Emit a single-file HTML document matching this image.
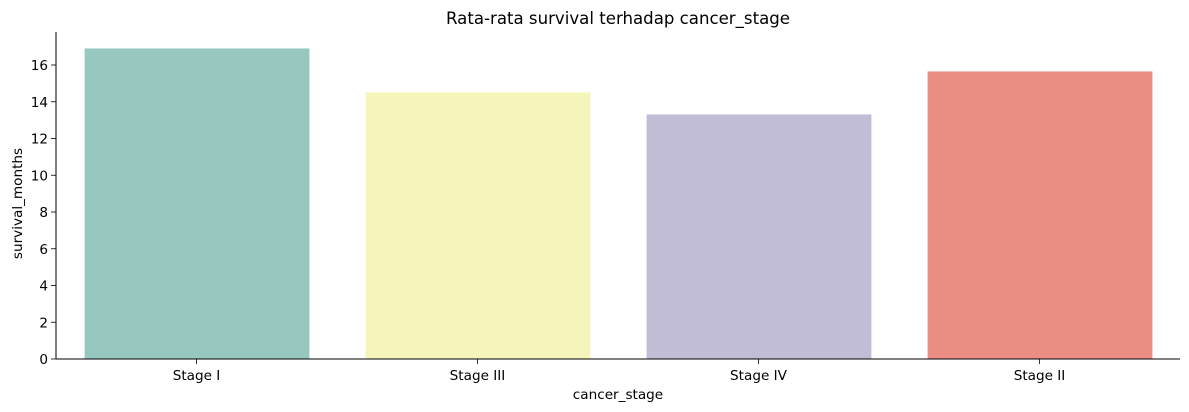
<!DOCTYPE html>
<html><head><meta charset="utf-8"><style>
body{margin:0;background:#fff;}
svg{display:block;font-family:"DejaVu Sans","Liberation Sans",sans-serif;}
</style></head><body>
<svg id="chart" width="1189" height="412"></svg>
<script>
const categories = ["Stage I","Stage III","Stage IV","Stage II"];
const values = [16.9, 14.51, 13.31, 15.65];
const colors = ["#97c8c0","#f5f5bb","#c1bdd6","#ea8e83"];
const yTicks = [0,2,4,6,8,10,12,14,16];

const NS="http://www.w3.org/2000/svg";
const svg=document.getElementById('chart');
const L=56,R=1180,T=32,B=359;
const yMax=(B-65)/16;
const y=v=>B-v*yMax;
const band=(R-L)/categories.length;
const x=i=>L+band*(i+0.5);
const FS=13.6;
function mk(t,a,txt){const e=document.createElementNS(NS,t);for(const k in a)e.setAttribute(k,a[k]);if(txt!==undefined)e.textContent=txt;svg.appendChild(e);return e;}

categories.forEach((c,i)=>{
  const w=band*0.8;
  const r=mk('rect',{x:x(i)-w/2+0.5,y:y(values[i]),width:w,height:B-y(values[i]),fill:colors[i]});
  
  
  const tk=mk('line',{x1:x(i),x2:x(i),y1:B,y2:B+5,stroke:'#000','stroke-width':0.8});
  
  
  const t=mk('text',{x:x(i),y:B+21,'text-anchor':'middle','font-size':FS,fill:'#000'},c);
  
  
});
yTicks.forEach(v=>{
  const tk=mk('line',{x1:L-5,x2:L,y1:y(v),y2:y(v),stroke:'#000','stroke-width':0.8});
  
  
  const t=mk('text',{x:L-8,y:y(v)+5,'text-anchor':'end','font-size':FS,fill:'#000'},String(v));
  
  
});
const ya=mk('line',{x1:L,x2:L,y1:T,y2:B,stroke:'#000','stroke-width':1});


const xa=mk('line',{x1:L,x2:R,y1:B,y2:B,stroke:'#000','stroke-width':1});


const tt=mk('text',{x:(L+R)/2,y:24,'text-anchor':'middle','font-size':16.6,fill:'#000'},'Rata-rata survival terhadap cancer_stage');


const xt=mk('text',{x:(L+R)/2,y:399,'text-anchor':'middle','font-size':FS,fill:'#000'},'cancer_stage');


const yt=mk('text',{x:22,y:(T+B)/2+8,'text-anchor':'middle','font-size':FS,fill:'#000',transform:'rotate(-90 22 '+((T+B)/2+8)+')'},'survival_months');


</script>
</body></html>
